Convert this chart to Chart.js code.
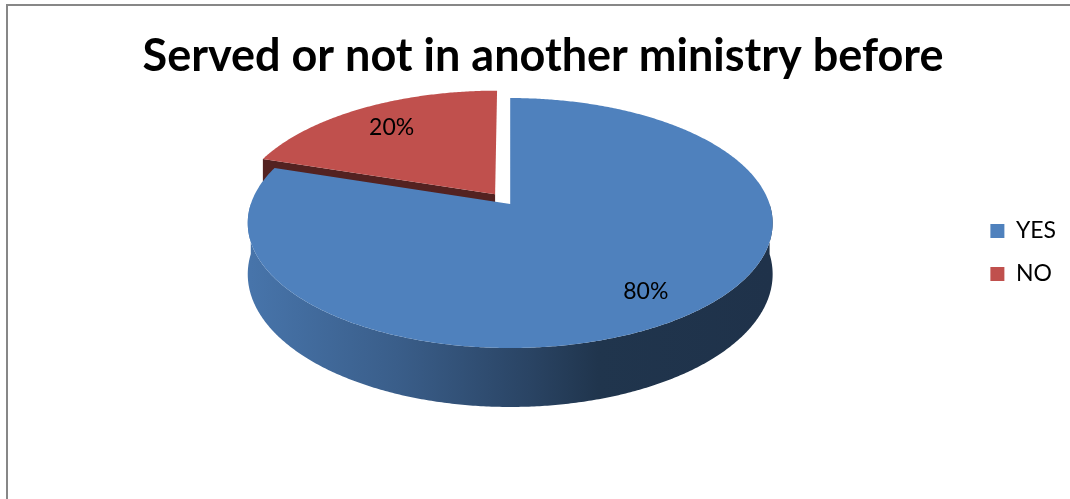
<!DOCTYPE html>
<html>
<head>
<meta charset="utf-8">
<script src="https://cdn.jsdelivr.net/npm/chart.js@4.4.1/dist/chart.umd.min.js"></script>
<style>
  html, body { margin: 0; padding: 0; background: #ffffff; }
  canvas { display: block; }
</style>
</head>
<body>
<canvas id="chart" width="1070" height="499"></canvas>
<script>
// Survey answers and their shares (percent)
const categories = ['YES', 'NO'];
const shares = [80, 20];
const chartTitle = 'Served or not in another ministry before';

function shade(hex, f) {
  const n = parseInt(hex.slice(1), 16);
  const r = Math.round(((n >> 16) & 255) * f);
  const g = Math.round(((n >> 8) & 255) * f);
  const b = Math.round((n & 255) * f);
  return `rgb(${r},${g},${b})`;
}

// Grey frame around the whole figure
const frame = {
  id: 'frame',
  beforeDraw(chart, args, o) {
    const ctx = chart.ctx;
    ctx.save();
    ctx.fillStyle = '#ffffff';
    ctx.fillRect(0, 0, chart.width, chart.height);
    ctx.strokeStyle = o.color;
    ctx.lineWidth = o.width;
    ctx.beginPath();
    ctx.moveTo(o.left, chart.height);
    ctx.lineTo(o.left, o.top);
    ctx.lineTo(chart.width, o.top);
    ctx.stroke();
    ctx.restore();
  }
};

// Empty layout box on the left: widens the plot margin without moving the title
const GUTTER_WIDTH = 30;
const leftGutter = {
  id: 'leftGutter',
  install(chart) {
    Chart.layouts.addBox(chart, {
      position: 'left', weight: 0, fullSize: false, options: {},
      width: 0, height: 0, left: 0, top: 0, right: 0, bottom: 0,
      isHorizontal() { return false; },
      update(maxWidth, maxHeight) { this.width = GUTTER_WIDTH; this.height = maxHeight; },
      draw() {}
    });
  }
};

// Draws the pie as a tilted solid with perspective, using the arcs laid out by Chart.js
const pie3d = {
  id: 'pie3d',
  beforeDatasetsDraw(chart, args, o) {
    const ctx = chart.ctx;
    const meta = chart.getDatasetMeta(0);
    const arcs = meta.data;
    if (!arcs.length) return;
    const values = chart.data.datasets[0].data;
    const A = o.rx, B = o.ry, D = o.depth, k = o.perspective;
    const cx = arcs[0].x;
    // centre the whole solid (top face + wall) on the library's centre point
    const above = B / (1 + k), below = (B + D) / (1 - k);
    const cy = arcs[0].y - (below - above) / 2;
    const P = (X, Y, z) => {
      const s = 1 / (1 - k * Y);
      return [cx + A * X * s, cy + (B * Y + D * z) * s];
    };
    const slices = arcs.map((arc, i) => {
      const a0 = arc.startAngle, a1 = arc.endAngle, mid = (a0 + a1) / 2;
      const e = (arc.options.offset || 0) / A;
      return { i, a0, a1, mid, ex: Math.cos(mid) * e, ey: Math.sin(mid) * e, color: arc.options.backgroundColor };
    });
    const pt = (sl, th, r, z) => P(sl.ex + r * Math.cos(th), sl.ey + r * Math.sin(th), z);
    const sweep = (a0, a1) => {
      const n = Math.max(2, Math.ceil(Math.abs(a1 - a0) / (Math.PI / 360)));
      const out = [];
      for (let j = 0; j <= n; j++) out.push(a0 + (a1 - a0) * j / n);
      return out;
    };

    ctx.save();

    // radial cut faces that turn towards the viewer
    const faces = [];
    slices.forEach(sl => {
      [[sl.a0, -1], [sl.a1, 1]].forEach(([th, dir]) => {
        if (Math.sin(th + dir * Math.PI / 2) > 1e-3) {
          faces.push({ sl, th, depth: sl.ey + 0.5 * Math.sin(th) });
        }
      });
    });
    faces.sort((p, q) => p.depth - q.depth);
    faces.forEach(f => {
      const q = [pt(f.sl, 0, 0, 0), pt(f.sl, f.th, 1, 0), pt(f.sl, f.th, 1, 1), pt(f.sl, 0, 0, 1)];
      ctx.beginPath();
      q.forEach((p, j) => j ? ctx.lineTo(p[0], p[1]) : ctx.moveTo(p[0], p[1]));
      ctx.closePath();
      ctx.fillStyle = shade(f.sl.color, o.faceShade);
      ctx.fill();
    });

    // outer curved wall on the near half
    slices.forEach(sl => {
      for (let m = -1; m <= 1; m++) {
        const lo = Math.max(sl.a0, 2 * Math.PI * m);
        const hi = Math.min(sl.a1, 2 * Math.PI * m + Math.PI);
        if (hi <= lo) continue;
        const ths = sweep(lo, hi);
        ctx.beginPath();
        ths.forEach((th, j) => { const p = pt(sl, th, 1, 0); j ? ctx.lineTo(p[0], p[1]) : ctx.moveTo(p[0], p[1]); });
        ths.slice().reverse().forEach(th => { const p = pt(sl, th, 1, 1); ctx.lineTo(p[0], p[1]); });
        ctx.closePath();
        const g = ctx.createLinearGradient(cx - A, 0, cx + A, 0);
        o.wallStops.forEach(([t, f]) => g.addColorStop(t, shade(sl.color, f)));
        ctx.fillStyle = g;
        ctx.fill();
      }
    });

    // top faces
    slices.forEach(sl => {
      ctx.beginPath();
      const c = pt(sl, 0, 0, 0);
      ctx.moveTo(c[0], c[1]);
      sweep(sl.a0, sl.a1).forEach(th => { const p = pt(sl, th, 1, 0); ctx.lineTo(p[0], p[1]); });
      ctx.closePath();
      ctx.fillStyle = sl.color;
      ctx.fill();
    });

    // percentage labels, placed part-way from the slice tip to its rim
    ctx.fillStyle = o.labelColor;
    ctx.font = o.labelFont;
    ctx.textAlign = 'center';
    ctx.textBaseline = 'middle';
    slices.forEach(sl => {
      const c = pt(sl, 0, 0, 0);
      const r = pt(sl, sl.mid, 1, 0);
      const f = o.labelRadius;
      ctx.fillText(values[sl.i] + '%', c[0] + (r[0] - c[0]) * f, c[1] + (r[1] - c[1]) * f);
    });

    ctx.restore();
    return false;
  }
};

new Chart(document.getElementById('chart'), {
  type: 'pie',
  data: {
    labels: categories,
    datasets: [{
      data: shares,
      backgroundColor: ['#4F81BD', '#C0504D'],
      borderWidth: 0,
      offset: [0, 26]
    }]
  },
  options: {
    responsive: false,
    animation: false,
    events: [],
    layout: { padding: { left: 20, right: 4, top: 0, bottom: 84 } },
    plugins: {
      title: {
        display: true,
        text: chartTitle,
        color: '#000000',
        font: { family: 'Lato', weight: 'bold', size: 45, lineHeight: 1.2 },
        padding: { top: 29, bottom: 7 }
      },
      legend: {
        position: 'right',
        fullSize: false,
        labels: {
          boxWidth: 14,
          boxHeight: 14,
          padding: 20,
          color: '#000000',
          font: { family: 'Lato', size: 23 }
        }
      },
      tooltip: { enabled: false },
      frame: { color: '#878787', width: 2, left: 7, top: 5 },
      pie3d: {
        rx: 259.4, ry: 122.1, depth: 50, perspective: 0.152,
        faceShade: 0.43,
        wallStops: [[0, 0.9], [0.28, 0.73], [0.535, 0.53], [0.67, 0.41], [1, 0.39]],
        labelRadius: 0.78,
        labelColor: '#000000',
        labelFont: '23px Lato'
      }
    }
  },
  plugins: [frame, leftGutter, pie3d]
});
</script>
</body>
</html>
